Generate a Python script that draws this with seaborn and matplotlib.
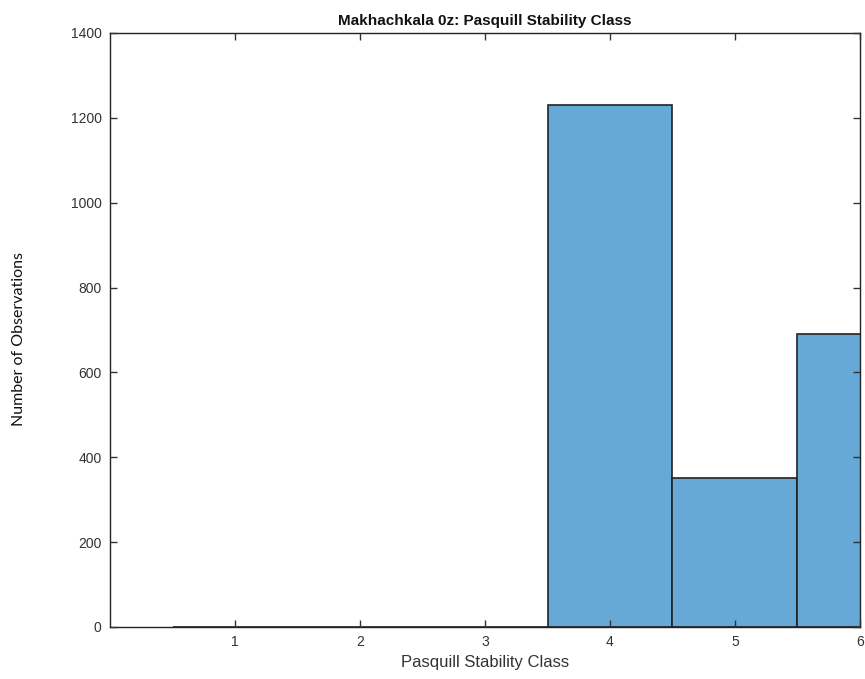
import matplotlib
matplotlib.use("Agg")
import matplotlib.pyplot as plt
import seaborn as sns
import pandas as pd

# Pasquill stability class counts at Makhachkala, 00Z soundings
stability_class = [1, 2, 3, 4, 5, 6]
observations = [0, 0, 0, 1230, 350, 690]
x_ticks = [1, 2, 3, 4, 5, 6]
y_ticks = [0, 200, 400, 600, 800, 1000, 1200, 1400]

sns.set_theme(style="ticks", rc={
    "xtick.direction": "in", "ytick.direction": "in",
    "xtick.top": True, "xtick.bottom": True,
    "ytick.left": True, "ytick.right": True,
    "xtick.major.size": 5, "ytick.major.size": 5,
})
plt.rcParams["font.family"] = ["Liberation Sans", "DejaVu Sans"]

df = pd.DataFrame({"cls": stability_class, "n": observations})

fig = plt.figure(figsize=(8.65, 6.79), dpi=100)
ax = fig.add_axes([0.1272, 0.0766, 0.8670, 0.8748])

sns.histplot(data=df, x="cls", weights="n", discrete=True, ax=ax,
             color="#67a9d6", alpha=1.0, edgecolor="#222222", linewidth=1.2)

ax.set_xlim(0, 6)
ax.set_ylim(0, 1400)
ax.set_xticks(x_ticks)
ax.set_yticks(y_ticks)
ax.tick_params(direction="in", length=5, width=1.0, top=True, right=True,
               bottom=True, left=True, labelsize=10, colors="#333333", pad=6)
ax.set_axisbelow(False)
for axis in (ax.xaxis, ax.yaxis):
    for t in axis.get_major_ticks():
        t.tick1line.set_zorder(4)
for s in ax.spines.values():
    s.set_visible(True)
    s.set_color("#222222")
    s.set_linewidth(1.0)

ax.set_title("Makhachkala 0z: Pasquill Stability Class", fontsize=11,
             fontweight="bold", color="#111111", pad=6)
ax.set_xlabel("Pasquill Stability Class", fontsize=12, color="#333333", labelpad=4)
fig.text(0.022, 0.5, "Number of Observations", rotation=90, va="center",
         ha="center", fontsize=11.5, family=["Lato", "DejaVu Sans"], color="#111111")
ax.set_ylabel("")

fig.savefig("out.png", dpi=100)
